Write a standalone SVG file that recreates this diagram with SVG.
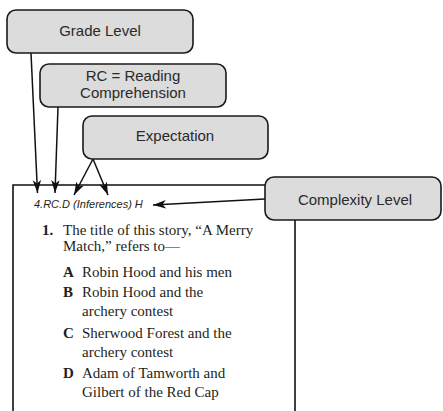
<svg xmlns="http://www.w3.org/2000/svg" width="443" height="411" viewBox="0 0 443 411">
<defs>
<style>
.box{fill:#dcdcdc;stroke:#1a1a1a;stroke-width:1.6}
.lbl{font-family:"Liberation Sans",Arial,sans-serif;font-size:15px;fill:#2a2a2a;text-anchor:middle}
.conn{stroke:#111;stroke-width:1.5;fill:none}
.q{font-family:"Liberation Serif","Times New Roman",serif;font-size:15px;fill:#231f20}
.b{font-weight:bold}
.code{font-family:"Liberation Sans",Arial,sans-serif;font-size:11px;font-style:italic;fill:#231f20}
</style>
<marker id="ah" viewBox="0 0 13 10" refX="13" refY="5" markerWidth="13" markerHeight="10" markerUnits="userSpaceOnUse" orient="auto">
<path d="M0,0.8 L13,5 L0,9.2 L3.5,5 Z" fill="#111"/>
</marker>
</defs>
<rect width="443" height="411" fill="#fff"/>
<g id="item">
<path d="M13,411 L13,185 L265,185 M295,220 L295,411" stroke="#111" stroke-width="1.6" fill="none"/>
<text class="code" x="34" y="208">4.RC.D (Inferences) H</text>
<text class="q b" x="42" y="235">1.</text>
<text class="q" x="63" y="235">The title of this story, “A Merry</text>
<text class="q" x="63" y="251">Match,” refers to—</text>
<text class="q b" x="63" y="277">A</text>
<text class="q" x="82" y="277">Robin Hood and his men</text>
<text class="q b" x="63" y="297">B</text>
<text class="q" x="82" y="297">Robin Hood and the</text>
<text class="q" x="82" y="316">archery contest</text>
<text class="q b" x="63" y="338">C</text>
<text class="q" x="82" y="338">Sherwood Forest and the</text>
<text class="q" x="82" y="357">archery contest</text>
<text class="q b" x="63" y="378">D</text>
<text class="q" x="82" y="378">Adam of Tamworth and</text>
<text class="q" x="82" y="397">Gilbert of the Red Cap</text>
</g>
<g id="connectors">
<line class="conn" x1="31" y1="53" x2="37.5" y2="193" marker-end="url(#ah)"/>
<line class="conn" x1="58" y1="107" x2="55" y2="193" marker-end="url(#ah)"/>
<line class="conn" x1="93" y1="159" x2="74" y2="195" marker-end="url(#ah)"/>
<line class="conn" x1="93" y1="159" x2="108" y2="195" marker-end="url(#ah)"/>
<line class="conn" x1="265" y1="199" x2="153" y2="205" marker-end="url(#ah)"/>
</g>
<g id="grade-level">
<rect class="box" x="7" y="10" width="186" height="43" rx="9"/>
<text class="lbl" x="100" y="36">Grade Level</text>
</g>
<g id="rc">
<rect class="box" x="40" y="64" width="186" height="43" rx="9"/>
<text class="lbl" x="133" y="81">RC = Reading</text>
<text class="lbl" x="133" y="98">Comprehension</text>
</g>
<g id="expectation">
<rect class="box" x="83" y="116" width="185" height="43" rx="9"/>
<text class="lbl" x="175" y="141">Expectation</text>
</g>
<g id="complexity-level">
<rect class="box" x="265" y="177" width="176" height="43" rx="9"/>
<text class="lbl" x="355" y="205">Complexity Level</text>
</g>
</svg>
